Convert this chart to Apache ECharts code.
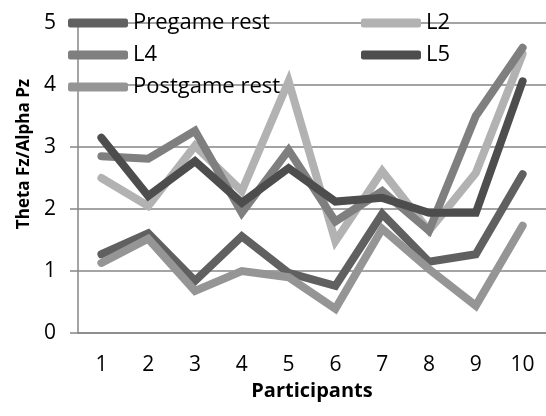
<!DOCTYPE html>
<html>
<head>
<meta charset="utf-8">
<script src="https://cdn.jsdelivr.net/npm/echarts@6/dist/echarts.min.js"></script>
<style>
  html, body { margin: 0; padding: 0; background: #fff; }
  #chart { width: 546px; height: 416px; }
</style>
</head>
<body>
<div id="chart"></div>
<script>
// Theta Fz / Alpha Pz ratio per participant across sessions
const participants = ['1', '2', '3', '4', '5', '6', '7', '8', '9', '10'];
const pregameRest  = [1.27, 1.61, 0.84, 1.56, 0.97, 0.76, 1.92, 1.15, 1.27, 2.56];
const l2           = [2.50, 2.05, 3.02, 2.29, 4.06, 1.48, 2.61, 1.65, 2.58, 4.50];
const l4           = [2.85, 2.81, 3.26, 1.94, 2.95, 1.80, 2.29, 1.65, 3.50, 4.60];
const l5           = [3.15, 2.21, 2.77, 2.10, 2.66, 2.12, 2.18, 1.94, 1.94, 4.06];
const postgameRest = [1.13, 1.52, 0.68, 1.00, 0.90, 0.39, 1.68, 1.03, 0.44, 1.73];
const yTicks = [0, 1, 2, 3, 4, 5];

const FONT = '"Open Sans", "Liberation Sans", sans-serif';

const seriesDefs = [
  { name: 'Pregame rest',  data: pregameRest,  color: '#606060' },
  { name: 'L2',            data: l2,           color: '#b2b2b2' },
  { name: 'L4',            data: l4,           color: '#7f7f7f' },
  { name: 'L5',            data: l5,           color: '#4d4d4d' },
  { name: 'Postgame rest', data: postgameRest, color: '#959595' }
];

const legendBase = {
  orient: 'vertical',
  icon: 'roundRect',
  itemWidth: 60,
  itemHeight: 9,
  itemGap: 10,
  selectedMode: false,
  textStyle: { fontFamily: FONT, fontSize: 22, color: '#000', lineHeight: 20 }
};

const chart = echarts.init(document.getElementById('chart'), null, { renderer: 'canvas' });
chart.setOption({
  animation: false,
  backgroundColor: '#fff',
  legend: [
    Object.assign({}, legendBase, { left: 63, top: 7, data: ['Pregame rest', 'L4', 'Postgame rest'] }),
    Object.assign({}, legendBase, { left: 356, top: 7, data: ['L2', 'L5'] })
  ],
  grid: { left: 78, right: -8, top: 23, bottom: 83 },
  xAxis: {
    type: 'category',
    data: participants,
    boundaryGap: true,
    name: 'Participants',
    nameLocation: 'middle',
    nameGap: 46,
    nameTextStyle: { fontFamily: FONT, fontSize: 20, fontWeight: 'bold', color: '#000' },
    axisLine: { lineStyle: { color: '#868686', width: 1.5 } },
    axisTick: { show: false },
    axisLabel: { fontFamily: FONT, fontSize: 21, color: '#000', margin: 22 }
  },
  yAxis: {
    type: 'value',
    min: yTicks[0],
    max: yTicks[yTicks.length - 1],
    interval: 1,
    name: 'Theta Fz/Alpha Pz',
    nameLocation: 'middle',
    nameGap: 42,
    nameTextStyle: { fontFamily: FONT, fontSize: 17, fontWeight: 'bold', color: '#000', padding: [0, 0, 0, 48] },
    axisLine: { show: true, lineStyle: { color: '#868686', width: 1.5 } },
    axisTick: { show: true, length: 8, lineStyle: { color: '#868686', width: 1.5 } },
    splitLine: { lineStyle: { color: '#868686', width: 1.5 } },
    axisLabel: { fontFamily: FONT, fontSize: 21, color: '#000', margin: 22 }
  },
  series: seriesDefs.map(s => ({
    name: s.name,
    type: 'line',
    data: s.data,
    symbol: 'none',
    color: s.color,
    lineStyle: { color: s.color, width: 8, cap: 'round', join: 'miter' }
  }))
});
</script>
</body>
</html>
